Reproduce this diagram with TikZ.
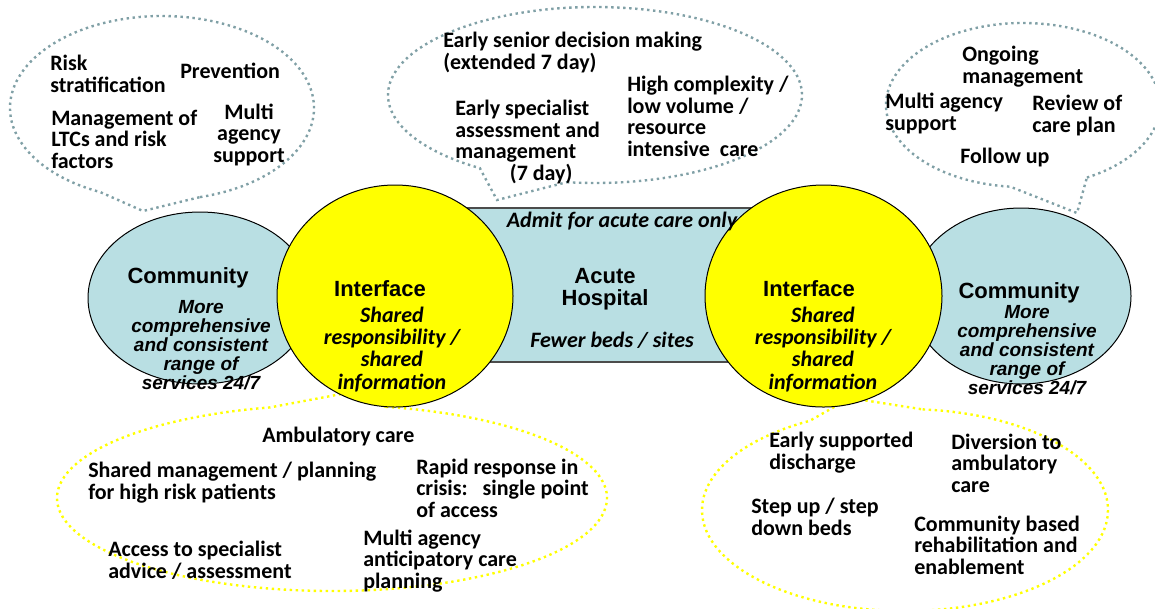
\documentclass[tikz,border=0pt]{standalone}
\usepackage{fontspec}
\setmainfont{Carlito}
\newfontfamily\arialfont{Liberation Sans}
\usetikzlibrary{positioning}

\definecolor{paleaqua}{RGB}{185,223,227}
\definecolor{dotgrey}{RGB}{128,160,166}
\definecolor{brightyellow}{RGB}{255,255,0}

\tikzset{
  greydots/.style={draw=dotgrey, line width=1.8pt, dash pattern=on 1.8pt off 2.7pt},
  yellowdots/.style={draw=brightyellow, line width=1.8pt, dash pattern=on 1.8pt off 2.7pt},
  notetext/.style={font=\fontsize{16.5}{16.1}\selectfont\bfseries, align=left, inner sep=0pt},
  headtext/.style={font=\arialfont\fontsize{16.5}{16.5}\selectfont\bfseries, align=center, inner sep=0pt},
  arialnote/.style={font=\arialfont\fontsize{14.25}{14.25}\selectfont\bfseries\itshape, align=center, inner sep=0pt},
  sharednote/.style={font=\fontsize{16.5}{16.7}\selectfont\bfseries\itshape, align=center, inner sep=0pt},
}

\begin{document}
\begin{tikzpicture}[x=0.75pt,y=0.75pt,yscale=-1,xscale=1]
\useasboundingbox (0,0) rectangle (1155,608);

%Shape: Callout top left
\draw [greydots] (162,108) ++(75.5:152 and 92) arc [start angle=75.5, end angle=-246, x radius=152, y radius=92] -- (143,211) -- cycle ;
%Shape: Callout top middle
\draw [greydots] (595,95) ++(97.8:207 and 88) arc [start angle=97.8, end angle=-236.2, x radius=207, y radius=88] -- (497,200) -- cycle ;
%Shape: Callout top right
\draw [greydots] (1023,105) ++(62.2:137 and 82) arc [start angle=62.2, end angle=-264.6, x radius=137, y radius=82] -- (1077,213) -- cycle ;
%Shape: Callout bottom left
\draw [yellowdots] (332,498) ++(-78.7:275 and 93) arc [start angle=-78.7, end angle=257, x radius=275, y radius=93] -- (352,392) -- cycle ;
%Shape: Callout bottom right
\draw [yellowdots] (905,510) ++(-85:203 and 101) arc [start angle=-85, end angle=242, x radius=203, y radius=101] -- (850,398) -- cycle ;

%Shape: Rectangle
\draw [fill=paleaqua, draw=black!70, line width=0.9pt] (450,208) rectangle (770,362) ;

%Shape: Ellipse
\draw [fill=paleaqua, line width=0.75pt] (200,298) ellipse [x radius=112, y radius=86] ;
%Shape: Ellipse
\draw [fill=paleaqua, line width=0.75pt] (1021,296) ellipse [x radius=110, y radius=88] ;

%Shape: Circle
\draw [fill=brightyellow, line width=0.75pt] (395,296) ellipse [x radius=118, y radius=111] ;
%Shape: Circle
\draw [fill=brightyellow, line width=0.75pt] (823.5,296) ellipse [x radius=118.5, y radius=111] ;

% Text Node
\node [notetext, anchor=base west] (riskstrat) at (50,92) {Risk\\stratification};
% Text Node
\node [notetext, anchor=base west] (prevention) at (180,78) {Prevention};
% Text Node
\node [notetext, anchor=base west] (ltcmgmt) at (51,168) {Management of\\LTCs and risk\\factors};
% Text Node
\node [notetext, align=center, anchor=base] (tlagency) at (249,162) {Multi\\agency\\support};

% Text Node
\node [notetext, anchor=base west] (seniordec) at (443,69) {Early senior decision making\\(extended 7 day)};
% Text Node
\node [notetext, anchor=base west] (highcomplex) at (627,156) {High complexity /\\low volume /\\resource\\intensive\ \ care};
% Text Node
\node [notetext, anchor=base west] (earlyspec) at (455,180) {Early specialist\\assessment and\\management\\\hspace*{41pt}(7 day)};

% Text Node
\node [notetext, anchor=base west] (ongoing) at (962,83) {Ongoing\\management};
% Text Node
\node [notetext, anchor=base west] (trmulti) at (885,130) {Multi agency\\support};
% Text Node
\node [notetext, anchor=base west] (review) at (1032,132) {Review of\\care plan};
% Text Node
\node [notetext, anchor=base west] (followup) at (960,163) {Follow up};

% Text Node
\node [headtext, anchor=base] (lcommtitle) at (188,283) {Community};
% Text Node
\node [arialnote, anchor=base] (lcommnote) at (201,389) {More\\comprehensive\\and consistent\\range of\\services 24/7};
% Text Node
\node [headtext, anchor=base] (liftitle) at (380,296) {Interface};
% Text Node
\node [sharednote, anchor=base] (lifnote) at (392,389) {Shared\\responsibility /\\shared\\information};
% Text Node
\node [sharednote, anchor=base] (admit) at (622,227) {Admit for acute care only};
% Text Node
\node [headtext, anchor=base] (hosptitle) at (605,305) {Acute\\Hospital};
% Text Node
\node [sharednote, anchor=base] (fewer) at (612,347) {Fewer beds / sites};
% Text Node
\node [headtext, anchor=base] (riftitle) at (809,296) {Interface};
% Text Node
\node [sharednote, anchor=base] (rifnote) at (823,389) {Shared\\responsibility /\\shared\\information};
% Text Node
\node [headtext, anchor=base] (rcommtitle) at (1019,298) {Community};
% Text Node
\node [arialnote, anchor=base] (rcommnote) at (1027,394) {More\\comprehensive\\and consistent\\range of\\services 24/7};

% Text Node
\node [notetext, anchor=base west] (ambcare) at (262,442) {Ambulatory care};
% Text Node
\node [notetext, anchor=base west] (sharedmgmt) at (88,499) {Shared management / planning\\for high risk patients};
% Text Node
\node [notetext, anchor=base west] (rapid) at (416,517) {Rapid response in\\crisis:\ \ \ single point\\of access};
% Text Node
\node [notetext, anchor=base west] (access) at (108,578) {Access to specialist\\advice / assessment};
% Text Node
\node [notetext, anchor=base west] (multiagency) at (363,588) {Multi agency\\anticipatory care\\planning};

% Text Node
\node [notetext, anchor=base west] (earlysupp) at (769,469) {Early supported\\discharge};
% Text Node
\node [notetext, anchor=base west] (diversion) at (951,492) {Diversion to\\ambulatory\\care};
% Text Node
\node [notetext, anchor=base west] (stepup) at (751,535) {Step up / step\\down beds};
% Text Node
\node [notetext, anchor=base west] (commbased) at (914,574) {Community based\\rehabilitation and\\enablement};

\end{tikzpicture}
\end{document}
